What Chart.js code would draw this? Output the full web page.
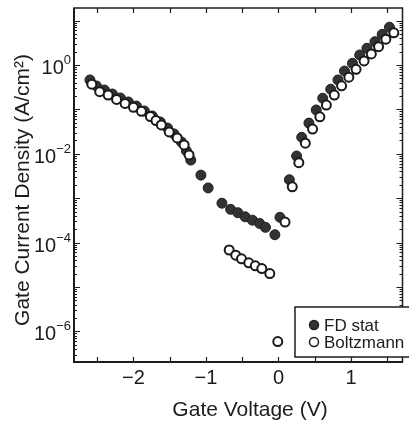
<!DOCTYPE html>
<html>
<head>
<meta charset="utf-8">
<script src="https://cdn.jsdelivr.net/npm/chart.js@4.4.0/dist/chart.umd.min.js"></script>
<style>
  html, body { margin: 0; padding: 0; background: #fff; }
  #wrap { width: 409px; height: 424px; }
</style>
</head>
<body>
<div id="wrap"><canvas id="c" width="409" height="424"></canvas></div>
<script>
// data
const fdV = [-2.60, -2.51, -2.40, -2.29, -2.18, -2.07, -1.96, -1.85, -1.74, -1.63, -1.53, -1.44, -1.34, -1.27, -1.21, -1.07, -0.97,
  -0.78, -0.66, -0.56, -0.46, -0.36, -0.26, -0.18, -0.05, 0.02,
  0.15, 0.25, 0.32, 0.42, 0.52, 0.61, 0.72, 0.82, 0.91, 1.02, 1.12, 1.22, 1.33, 1.43, 1.53];
const fdJ = [0.46, 0.336, 0.273, 0.222, 0.181, 0.147, 0.119, 0.092, 0.071, 0.052, 0.038, 0.028, 0.0185, 0.0116, 0.0072, 0.0033, 0.0017,
  7.7e-4, 5.6e-4, 4.7e-4, 3.8e-4, 3.2e-4, 2.7e-4, 2.2e-4, 1.5e-4, 3.7e-4,
  2.6e-3, 8.9e-3, 0.0235, 0.049, 0.097, 0.178, 0.284, 0.46, 0.73, 1.09, 1.68, 2.38, 3.35, 4.9, 7.1];

const bzV = [-2.575, -2.466, -2.349, -2.233, -2.116, -2.0, -1.89, -1.767, -1.69, -1.616, -1.507, -1.397, -1.301, -1.233,
  -0.68, -0.59, -0.51, -0.41, -0.32, -0.23, -0.12, -0.01, 0.09,
  0.19, 0.28, 0.37, 0.47, 0.57, 0.66, 0.77, 0.87, 0.97, 1.07, 1.18, 1.28, 1.38, 1.48, 1.59];
const bzJ = [0.37, 0.25, 0.21, 0.167, 0.136, 0.111, 0.0906, 0.069, 0.056, 0.0446, 0.031, 0.0227, 0.0158, 0.0094,
  6.8e-5, 5.2e-5, 4.3e-5, 3.5e-5, 3.0e-5, 2.6e-5, 2.0e-5, 5.9e-7, 2.9e-4,
  1.8e-3, 6.3e-3, 0.0173, 0.036, 0.068, 0.125, 0.21, 0.34, 0.53, 0.80, 1.23, 1.77, 2.58, 3.8, 5.3];

const seriesNames = ["FD stat", "Boltzmann"];
const xTicks = [-2, -1, 0, 1];
const yLabelExps = [0, -2, -4, -6];
const xTitle = "Gate Voltage (V)";
const yTitle = "Gate Current Density (A/cm\u00B2)";

const FONT = "'Liberation Sans', Arial, sans-serif";
const INK = "#1c1c1c";

function toPoints(xs, ys) {
  return xs.map((x, i) => ({ x: x, y: ys[i] }));
}

function minus(v) {
  return String(v).replace("-", "\u2212");
}

/* frame, inward ticks, y labels, titles, legend */
const decor = {
  id: "decor",
  afterDraw(chart) {
    const ctx = chart.ctx;
    const a = chart.chartArea;
    const xs = chart.scales.x;
    const ys = chart.scales.y;
    ctx.save();
    ctx.strokeStyle = INK;

    // ticks on x (bottom + top)
    ctx.lineWidth = 1.2;
    for (let v = -2.5; v <= 1.5001; v += 0.5) {
      const px = Math.round(xs.getPixelForValue(v)) + 0.5;
      ctx.beginPath();
      ctx.moveTo(px, a.bottom); ctx.lineTo(px, a.bottom - 5);
      ctx.moveTo(px, a.top); ctx.lineTo(px, a.top + 5);
      ctx.stroke();
    }

    // ticks on y (left + right)
    for (let e = -7; e <= 1; e++) {
      for (let m = 1; m <= 9; m++) {
        const v = m * Math.pow(10, e);
        if (v < ys.min || v > ys.max) continue;
        const py = Math.round(ys.getPixelForValue(v)) + 0.5;
        const len = m === 1 ? 6 : 3;
        ctx.beginPath();
        ctx.moveTo(a.left, py); ctx.lineTo(a.left + len, py);
        ctx.moveTo(a.right, py); ctx.lineTo(a.right - len, py);
        ctx.stroke();
      }
    }

    // frame
    ctx.lineWidth = 1.5;
    ctx.strokeRect(a.left, a.top, a.right - a.left, a.bottom - a.top);
    ctx.lineWidth = 2;
    ctx.beginPath();
    ctx.moveTo(a.left, a.top); ctx.lineTo(a.left, a.bottom); ctx.lineTo(a.right, a.bottom);
    ctx.stroke();

    // y labels 10^n
    ctx.fillStyle = INK;
    ctx.textAlign = "right";
    ctx.textBaseline = "alphabetic";
    yLabelExps.forEach((e) => {
      const py = ys.getPixelForValue(Math.pow(10, e));
      const sup = minus(e);
      ctx.font = "13px " + FONT;
      const w = ctx.measureText(sup).width;
      ctx.fillText(sup, a.left - 3, py - 1);
      ctx.font = "20px " + FONT;
      ctx.fillText("10", a.left - 3 - w, py + 9);
    });

    // axis titles
    ctx.font = "21px " + FONT;
    ctx.textAlign = "center";
    ctx.textBaseline = "middle";
    ctx.fillText(xTitle, 250, 410);
    ctx.save();
    ctx.translate(23, 190);
    ctx.rotate(-Math.PI / 2);
    ctx.fillText(yTitle, 0, 0);
    ctx.restore();

    // legend
    const lx = 295, ly = 307, lw = 120, lh = 50;
    ctx.fillStyle = "#fff";
    ctx.fillRect(lx, ly, lw, lh);
    ctx.lineWidth = 1.5;
    ctx.strokeRect(lx, ly, lw, lh);
    ctx.font = "17px " + FONT;
    ctx.textAlign = "left";
    ctx.textBaseline = "middle";
    chart.data.datasets.forEach((ds, i) => {
      const cy = 325 + i * 17;
      ctx.beginPath();
      ctx.arc(314, cy, 4.5, 0, Math.PI * 2);
      ctx.fillStyle = ds.backgroundColor;
      ctx.fill();
      ctx.lineWidth = 1.5;
      ctx.strokeStyle = ds.borderColor;
      ctx.stroke();
      ctx.fillStyle = INK;
      ctx.fillText(ds.label, 324, cy + 1);
    });
    ctx.restore();
  },
};

new Chart(document.getElementById("c"), {
  type: "scatter",
  data: {
    datasets: [
      {
        label: seriesNames[0],
        data: toPoints(fdV, fdJ),
        backgroundColor: "#333333",
        borderColor: "#222222",
        borderWidth: 1,
        pointRadius: 5,
        order: 2,
      },
      {
        label: seriesNames[1],
        data: toPoints(bzV, bzJ),
        backgroundColor: "#ffffff",
        borderColor: "#1a1a1a",
        borderWidth: 2,
        pointRadius: 4.5,
        order: 1,
      },
    ],
  },
  options: {
    responsive: false,
    animation: false,
    events: [],
    layout: { padding: { top: 8, right: 4, left: 0, bottom: 0 } },
    plugins: { legend: { display: false }, tooltip: { enabled: false } },
    scales: {
      x: {
        type: "linear",
        min: -2.82,
        max: 1.71,
        grid: { display: false, drawTicks: false },
        border: { display: false },
        afterBuildTicks: (s) => { s.ticks = xTicks.map((v) => ({ value: v })); },
        afterFit: (s) => { s.height = 62; },
        ticks: {
          padding: 4,
          color: INK,
          font: { family: FONT, size: 20 },
          callback: (v) => minus(v),
        },
      },
      y: {
        type: "logarithmic",
        min: 2.04e-7,
        max: 19.2,
        grid: { display: false, drawTicks: false },
        border: { display: false },
        ticks: { display: false },
        afterFit: (s) => { s.width = 74; },
      },
    },
  },
  plugins: [decor],
});
</script>
</body>
</html>
